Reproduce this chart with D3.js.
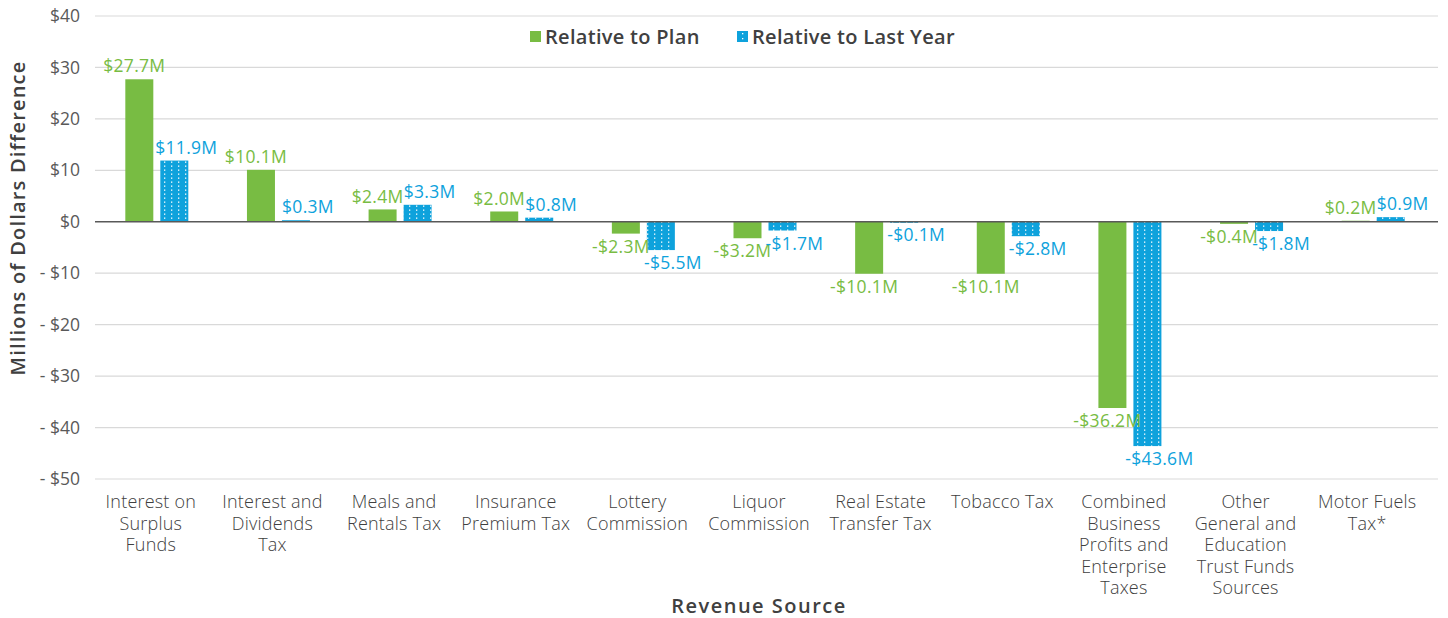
<!DOCTYPE html>
<html><head><meta charset="utf-8">
<script src="https://cdn.jsdelivr.net/npm/d3@7"></script>
<style>body{margin:0;background:#fff;} svg{display:block;font-family:"Open Sans", "Noto Sans", sans-serif;}</style>
</head><body>
<svg id="chart" width="1448" height="618"></svg>
<script>
const categories = [
  ["Interest on","Surplus","Funds"],
  ["Interest and","Dividends","Tax"],
  ["Meals and","Rentals Tax"],
  ["Insurance","Premium Tax"],
  ["Lottery","Commission"],
  ["Liquor","Commission"],
  ["Real Estate","Transfer Tax"],
  ["Tobacco Tax"],
  ["Combined","Business","Profits and","Enterprise","Taxes"],
  ["Other","General and","Education","Trust Funds","Sources"],
  ["Motor Fuels","Tax*"]
];
const relativeToPlan = [27.7, 10.1, 2.4, 2.0, -2.3, -3.2, -10.1, -10.1, -36.2, -0.4, 0.2];
const relativeToLastYear = [11.9, 0.3, 3.3, 0.8, -5.5, -1.7, -0.1, -2.8, -43.6, -1.8, 0.9];
const yTicks = [40, 30, 20, 10, 0, -10, -20, -30, -40, -50];
const seriesNames = ["Relative to Plan", "Relative to Last Year"];

const green = "#78bc43", blue = "#0ea2dc";
const svg = d3.select("#chart");
const m = {left: 95, right: 1438, top: 16, bottom: 479};

const defs = svg.append("defs");
const pat = defs.append("pattern").attr("id","dots").attr("patternUnits","userSpaceOnUse")
  .attr("width",7).attr("height",4);
pat.append("rect").attr("width",7).attr("height",4).attr("fill",blue);
pat.append("rect").attr("x",3).attr("y",1.5).attr("width",1.3).attr("height",1.3).attr("fill","#fff");

const x = d3.scaleBand().domain(d3.range(categories.length)).range([96, 1434]);
const y = d3.scaleLinear().domain([-50, 40]).range([m.bottom, m.top]);

// grid
svg.append("g").selectAll("line").data(yTicks.filter(d=>d!==0)).join("line")
  .attr("x1", m.left).attr("x2", m.right)
  .attr("y1", d=>y(d)).attr("y2", d=>y(d))
  .attr("stroke","#d9d9d9").attr("stroke-width",1.2);

// y axis labels
const yAxis = d3.axisLeft(y).tickValues(yTicks).tickSize(0).tickPadding(0)
  .tickFormat(d => (d<0 ? "- $" : "$") + Math.abs(d));
const ya = svg.append("g").attr("transform",`translate(80,0)`).call(yAxis);
ya.select(".domain").remove();
ya.selectAll("text").attr("font-size",17.5).attr("font-weight",400).attr("fill","#595959").attr("font-family","'Open Sans', sans-serif");

const barW = 28, gap = 7;
const cx = i => x(i) + x.bandwidth()/2;

// bars
const series = [
  {vals: relativeToPlan, fill: green, color: green, off: -(gap/2 + barW), lab: -5},
  {vals: relativeToLastYear, fill: "url(#dots)", color: blue, off: gap/2, lab: 12}
];
series.forEach(s => {
  svg.append("g").selectAll("rect").data(s.vals).join("rect")
    .attr("x", (d,i) => cx(i) + s.off)
    .attr("width", barW)
    .attr("y", d => y(Math.max(0,d)))
    .attr("height", d => Math.max(1, Math.abs(y(d) - y(0))))
    .attr("fill", s.fill);
});

// zero line
svg.append("line").attr("x1",m.left).attr("x2",m.right).attr("y1",y(0)).attr("y2",y(0))
  .attr("stroke","#595959").attr("stroke-width",1.5);

// labels
const fmt = d => (d<0 ? "-$" : "$") + Math.abs(d).toFixed(1) + "M";
series.forEach(s => {
  svg.append("g").selectAll("text").data(s.vals).join("text")
    .attr("x", (d,i) => cx(i) + s.off + barW/2 + s.lab)
    .attr("y", d => d >= 0 ? y(d) - 13 : y(d) + 13)
    .attr("dy","0.35em")
    .attr("text-anchor","middle")
    .attr("font-size",17.5).attr("font-weight",500).attr("letter-spacing",0.3)
    .attr("fill", s.color)
    .text(fmt);
});

// x category labels
const xl = svg.append("g");
categories.forEach((lines,i) => {
  const t = xl.append("text").attr("x", cx(i)-6).attr("y", 502)
    .attr("text-anchor","middle").attr("font-size",18).attr("font-weight",300)
    .attr("letter-spacing",0.2).attr("fill","#404040");
  lines.forEach((ln,j) => t.append("tspan").attr("x", cx(i)-6).attr("dy", j===0 ? "0.35em" : 21.5).text(ln));
});

// axis titles
svg.append("text").attr("x",759).attr("y",606).attr("dy","0.35em").attr("text-anchor","middle")
  .attr("font-size",20).attr("font-weight",600).attr("letter-spacing",1.5).attr("fill","#404040").text("Revenue Source");
svg.append("text").attr("transform","translate(18,218) rotate(-90)").attr("dy","0.35em").attr("text-anchor","middle")
  .attr("font-size",20).attr("font-weight",600).attr("letter-spacing",1.2).attr("fill","#404040").text("Millions of Dollars Difference");

// legend
const lg = svg.append("g");
const legItems = [{name: seriesNames[0], fill: green, x: 530}, {name: seriesNames[1], fill: "url(#dots)", x: 737}];
legItems.forEach(it => {
  lg.append("rect").attr("x", it.x).attr("y", 31).attr("width",11).attr("height",11).attr("fill", it.fill === green ? green : blue);
  if (it.fill !== green) {
    lg.append("rect").attr("x", it.x+5).attr("y", 33).attr("width",1.3).attr("height",1.3).attr("fill","#fff");
    lg.append("rect").attr("x", it.x+5).attr("y", 38).attr("width",1.3).attr("height",1.3).attr("fill","#fff");
  }
  lg.append("text").attr("x", it.x + 15).attr("y", 37).attr("dy","0.35em")
    .attr("font-size",20).attr("font-weight",600).attr("letter-spacing",0.3).attr("fill","#404040").text(it.name);
});
</script>
</body></html>
